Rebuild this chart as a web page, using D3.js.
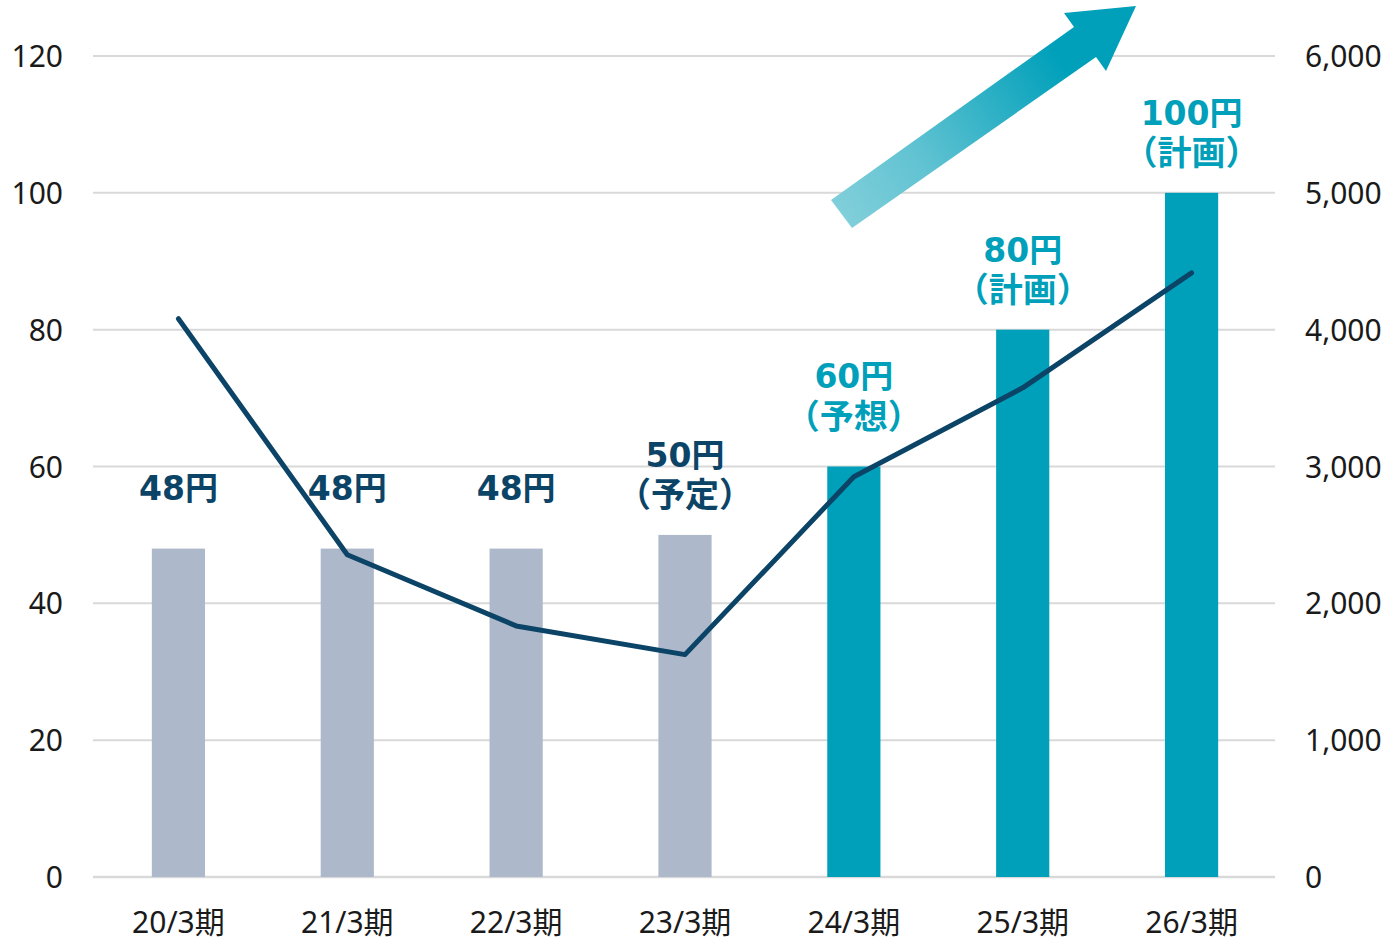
<!DOCTYPE html>
<html><head><meta charset="utf-8">
<script src="https://cdn.jsdelivr.net/npm/d3@7"></script>
<style>
html,body{margin:0;padding:0;background:#fff;}
svg{display:block;}
</style></head>
<body><svg id="chart" width="1391" height="944"></svg>
<script>
const categories = ["20/3期","21/3期","22/3期","23/3期","24/3期","25/3期","26/3期"];
const dividends = [48, 48, 48, 50, 60, 80, 100];
const lineValues = [4080, 2355, 1835, 1625, 2925, 3575, 4415];
const labelMain = ["48円","48円","48円","50円","60円","80円","100円"];
const labelSub = ["","","","（予定）","（予想）","（計画）","（計画）"];
const isForecast = [false,false,false,false,true,true,true];
const leftTicks = [0,20,40,60,80,100,120];
const rightTicks = [0,1000,2000,3000,4000,5000,6000];

const W = 1391, H = 944;
const m = {left: 93, right: 116, top: 56, bottom: 67};
const svg = d3.select("#chart");
const font = "'Noto Sans', 'Noto Sans CJK JP', sans-serif";
const boldFont = "'DejaVu Sans', 'Noto Sans CJK JP', sans-serif";
const navy = "#0b4466", teal = "#00a0ba", grayBar = "#adb9cb";

const x = d3.scaleBand().domain(categories).range([m.left + 1, W - m.right + 1]).paddingInner(0.685).paddingOuter(0.3425);
const yL = d3.scaleLinear().domain([0,120]).range([H - m.bottom, m.top]);
const yR = d3.scaleLinear().domain([0,6000]).range([H - m.bottom, m.top]);

// gridlines
svg.append("g").selectAll("line").data(leftTicks).join("line")
  .attr("x1", m.left).attr("x2", W - m.right)
  .attr("y1", d => yL(d)).attr("y2", d => yL(d))
  .attr("stroke", "#d9d9d9").attr("stroke-width", d => d === 0 ? 2.5 : 2);

// left axis
const axL = svg.append("g").attr("transform", `translate(${m.left - 30},0)`)
  .call(d3.axisLeft(yL).tickValues(leftTicks).tickSize(0).tickPadding(0));
axL.select(".domain").remove();
axL.selectAll("text").attr("font-family", font).attr("font-size", 30).attr("fill", "#1a1a1a").attr("dy", "0.35em");

// right axis
const axR = svg.append("g").attr("transform", `translate(${W - m.right + 30},0)`)
  .call(d3.axisRight(yR).tickValues(rightTicks).tickSize(0).tickPadding(0).tickFormat(d3.format(",")));
axR.select(".domain").remove();
axR.selectAll("text").attr("font-family", font).attr("font-size", 30).attr("fill", "#1a1a1a").attr("dy", "0.35em");

// x axis labels
const axX = svg.append("g").attr("transform", `translate(0,${H - m.bottom + 45})`)
  .call(d3.axisBottom(x).tickSize(0).tickPadding(0));
axX.select(".domain").remove();
axX.selectAll("text").attr("font-family", font).attr("font-size", 30).attr("fill", "#1a1a1a").attr("dy", "0.35em");

// bars
svg.append("g").selectAll("rect").data(categories).join("rect")
  .attr("x", d => x(d)).attr("width", x.bandwidth())
  .attr("y", (d,i) => yL(dividends[i]))
  .attr("height", (d,i) => yL(0) - yL(dividends[i]))
  .attr("fill", (d,i) => isForecast[i] ? teal : grayBar);

// arrow with gradient
const defs = svg.append("defs");
const grad = defs.append("linearGradient").attr("id","ag").attr("gradientUnits","userSpaceOnUse")
  .attr("x1", 841).attr("y1", 214).attr("x2", 1060).attr("y2", 60);
grad.append("stop").attr("offset", "0%").attr("stop-color", "#80cfda");
grad.append("stop").attr("offset", "35%").attr("stop-color", "#62c3d2");
grad.append("stop").attr("offset", "100%").attr("stop-color", teal);
const arrowPts = [[831,200],[1074,27],[1064,13],[1136,6],[1106,71],[1096,57],[852,228]];
svg.append("path").attr("d", d3.line()(arrowPts) + "Z").attr("fill", "url(#ag)");

// line
const lineGen = d3.line().x((d,i) => x(categories[i]) + x.bandwidth()/2).y(d => yR(d));
svg.append("path").datum(lineValues).attr("d", lineGen)
  .attr("fill","none").attr("stroke", navy).attr("stroke-width", 5)
  .attr("stroke-linejoin","round").attr("stroke-linecap","round");

// labels
const lift = {"24/3期": 10};
const lg = svg.append("g").attr("font-weight", "bold").attr("text-anchor","middle");
categories.forEach((c,i) => {
  const cx = x(c) + x.bandwidth()/2;
  const top = yL(dividends[i]) - (lift[c] || 0);
  const col = isForecast[i] ? teal : navy;
  if (labelSub[i]) {
    lg.append("text").attr("x", cx).attr("y", top - 80).attr("dy","0.36em").attr("font-family", boldFont).attr("font-size", 33).attr("fill", col).text(labelMain[i]);
    lg.append("text").attr("x", cx).attr("y", top - 40).attr("dy","0.36em").attr("font-family", font).attr("font-size", 34).attr("fill", col).text(labelSub[i]);
  } else {
    lg.append("text").attr("x", cx).attr("y", top - 60).attr("dy","0.36em").attr("font-family", boldFont).attr("font-size", 33).attr("fill", col).text(labelMain[i]);
  }
});
</script></body></html>
